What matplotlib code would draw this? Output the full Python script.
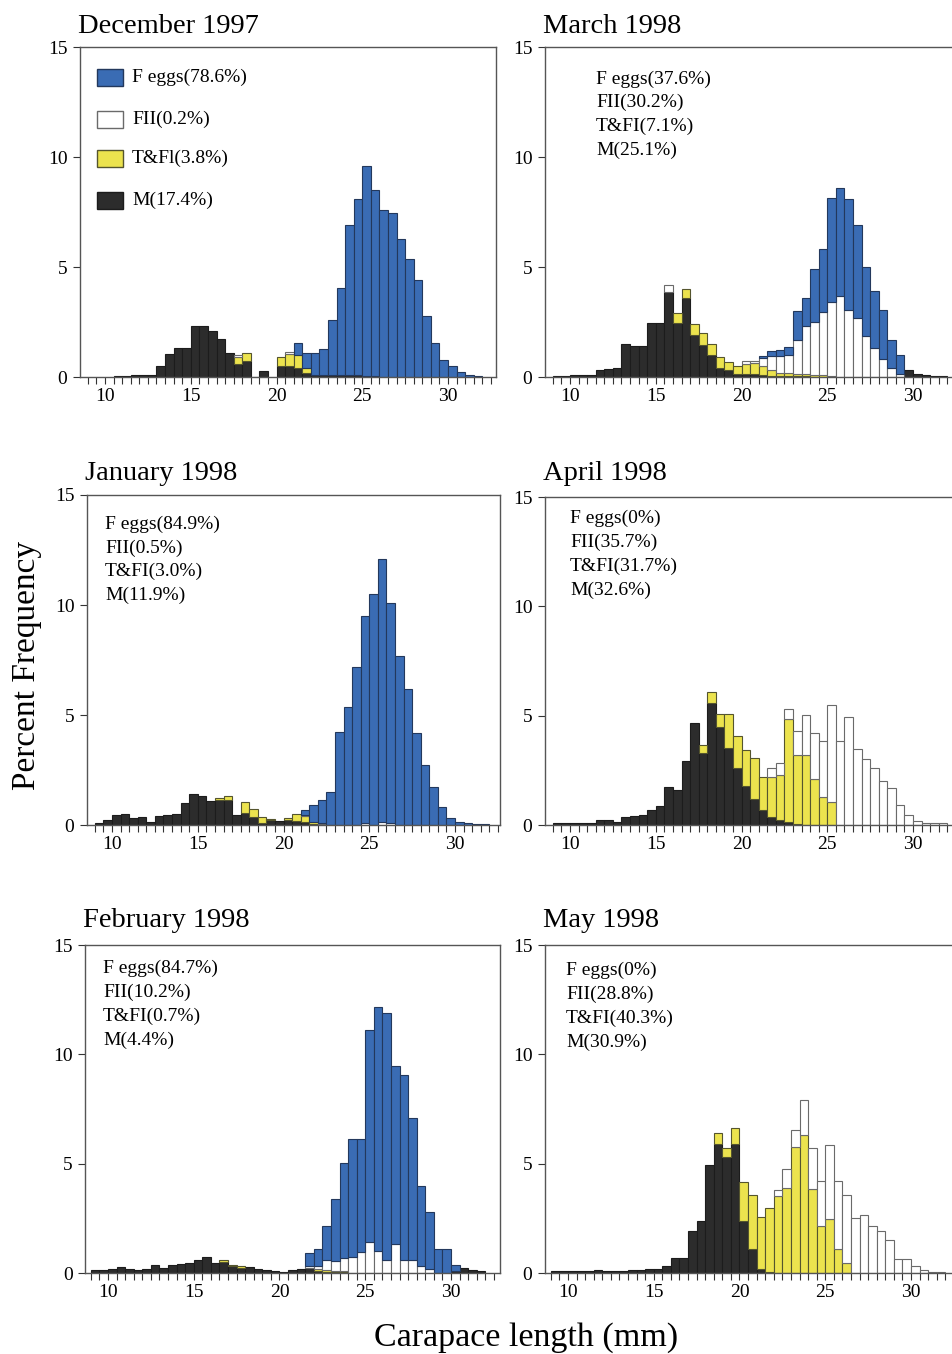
import numpy as np
import matplotlib
matplotlib.use('Agg')
import matplotlib.pyplot as plt
from matplotlib.ticker import MultipleLocator
from matplotlib.patches import Rectangle

plt.rcParams['font.family'] = ['Liberation Serif', 'DejaVu Serif']

W, H = 953, 1354
DPI = 100

# carapace length classes, left edge of each 0.5 mm bin
bins = np.arange(9.0, 32.0, 0.5)

# percent frequency per bin: M, T&FI, FII, F eggs (bottom to top of stack)
dec_m = [0, 0, 0, 0.05, 0.06, 0.1, 0.1, 0.1, 0.5, 1.06,
         1.33, 1.33, 2.3, 2.3, 2.1, 1.75, 1.1, 0.6, 0.75, 0.02,
         0.29, 0, 0.5, 0.5, 0.4, 0.2, 0.1, 0.1, 0.1, 0.07,
         0.1, 0.08, 0.05, 0.05, 0, 0, 0, 0, 0, 0,
         0, 0, 0, 0, 0, 0]
dec_tf = [0, 0, 0, 0, 0, 0, 0, 0, 0, 0,
          0, 0, 0, 0, 0, 0, 0, 0.3, 0.35, 0,
          0, 0, 0.4, 0.55, 0.6, 0.2, 0, 0, 0, 0,
          0, 0, 0, 0, 0, 0, 0, 0, 0, 0,
          0, 0, 0, 0, 0, 0]
dec_fii = [0, 0, 0, 0, 0, 0, 0, 0, 0, 0,
           0, 0, 0, 0, 0, 0, 0, 0.1, 0, 0,
           0, 0, 0, 0.1, 0, 0, 0, 0, 0, 0,
           0, 0, 0, 0, 0, 0, 0, 0, 0, 0,
           0, 0, 0, 0, 0, 0]
dec_fe = [0, 0, 0, 0, 0, 0, 0, 0, 0, 0,
          0, 0, 0, 0, 0, 0, 0, 0, 0, 0,
          0, 0, 0, 0, 0.55, 0.7, 0.97, 1.16, 2.49, 3.96,
          6.8, 8.0, 9.54, 8.45, 7.6, 7.44, 6.26, 5.35, 4.41, 2.77,
          1.53, 0.77, 0.5, 0.21, 0.08, 0.05]

mar_m = [0.03, 0.05, 0.1, 0.08, 0.1, 0.3, 0.35, 0.4, 1.5, 1.4,
         1.4, 2.45, 2.45, 3.85, 2.45, 3.6, 1.9, 1.45, 1.0, 0.4,
         0.3, 0.15, 0.15, 0.15, 0.1, 0.05, 0.05, 0.05, 0.05, 0.05,
         0, 0, 0, 0, 0, 0, 0, 0, 0, 0,
         0, 0.3, 0.15, 0.08, 0.05, 0.03]
mar_tf = [0, 0, 0, 0, 0, 0, 0, 0, 0, 0,
          0, 0, 0, 0, 0.45, 0.4, 0.5, 0.55, 0.5, 0.5,
          0.4, 0.35, 0.45, 0.5, 0.4, 0.25, 0.15, 0.12, 0.1, 0.1,
          0.1, 0.08, 0.05, 0, 0, 0, 0, 0, 0, 0,
          0, 0, 0, 0, 0, 0]
mar_fii = [0, 0, 0, 0, 0, 0, 0, 0, 0, 0,
           0, 0, 0, 0.35, 0, 0, 0, 0, 0, 0,
           0, 0, 0.15, 0.1, 0.35, 0.65, 0.75, 0.85, 1.55, 2.15,
           2.4, 2.87, 3.35, 3.67, 3.06, 2.7, 1.85, 1.3, 0.8, 0.4,
           0.15, 0, 0, 0, 0, 0]
mar_fe = [0, 0, 0, 0, 0, 0, 0, 0, 0, 0,
          0, 0, 0, 0, 0, 0, 0, 0, 0, 0,
          0, 0, 0, 0, 0.1, 0.25, 0.3, 0.33, 1.3, 1.3,
          2.4, 2.85, 4.75, 4.93, 5.04, 4.2, 3.15, 2.6, 2.26, 1.3,
          0.85, 0, 0, 0, 0, 0]

jan_m = [0.1, 0.25, 0.45, 0.5, 0.3, 0.35, 0.15, 0.4, 0.45, 0.5,
         1.0, 1.4, 1.3, 1.1, 1.15, 1.15, 0.45, 0.55, 0.35, 0.1,
         0.22, 0.2, 0.25, 0.2, 0.15, 0.05, 0, 0, 0, 0,
         0, 0, 0, 0, 0, 0, 0, 0, 0, 0,
         0, 0, 0, 0, 0, 0]
jan_tf = [0, 0, 0, 0, 0, 0, 0, 0, 0, 0,
          0, 0, 0, 0, 0.1, 0.15, 0, 0.5, 0.4, 0.28,
          0.05, 0, 0.05, 0.3, 0.25, 0.1, 0.05, 0, 0, 0,
          0, 0, 0, 0, 0, 0, 0, 0, 0, 0,
          0, 0, 0, 0, 0, 0]
jan_fii = [0, 0, 0, 0, 0, 0, 0, 0, 0, 0,
           0, 0, 0, 0, 0, 0, 0, 0, 0, 0,
           0, 0, 0, 0, 0.05, 0, 0.05, 0, 0, 0,
           0, 0.1, 0, 0.15, 0.1, 0, 0, 0, 0, 0,
           0, 0, 0, 0, 0, 0]
jan_fe = [0, 0, 0, 0, 0, 0, 0, 0, 0, 0,
          0, 0, 0, 0, 0, 0, 0, 0, 0, 0,
          0, 0, 0, 0, 0.25, 0.75, 1.05, 1.5, 4.25, 5.35,
          7.2, 9.4, 10.5, 11.95, 10.0, 7.7, 6.2, 4.2, 2.75, 1.75,
          0.84, 0.33, 0.13, 0.08, 0.06, 0.05]

apr_m = [0.1, 0.1, 0.1, 0.1, 0.1, 0.25, 0.25, 0.15, 0.35, 0.4,
         0.45, 0.68, 0.88, 1.75, 1.6, 2.92, 4.67, 3.3, 5.6, 4.5,
         3.5, 2.6, 1.8, 1.2, 0.68, 0.38, 0.23, 0.12, 0.05, 0,
         0, 0, 0, 0, 0, 0, 0, 0, 0, 0,
         0, 0, 0, 0, 0, 0]
apr_tf = [0, 0, 0, 0, 0, 0, 0, 0, 0, 0,
          0, 0, 0, 0, 0, 0, 0, 0.35, 0.48, 0.59,
          1.59, 1.46, 1.62, 1.87, 1.52, 1.82, 2.05, 4.74, 3.14, 3.19,
          2.1, 1.3, 1.05, 0, 0, 0, 0, 0, 0, 0,
          0, 0, 0, 0, 0, 0]
apr_fii = [0, 0, 0, 0, 0, 0, 0, 0, 0, 0,
           0, 0, 0, 0, 0, 0, 0, 0, 0, 0,
           0, 0, 0, 0, 0, 0.4, 0.56, 0.43, 1.1, 1.86,
           2.1, 2.53, 4.45, 3.83, 4.94, 3.47, 3.0, 2.6, 2.0, 1.67,
           0.9, 0.45, 0.2, 0.1, 0.08, 0.08]
apr_fe = [0] * 46

feb_m = [0.12, 0.15, 0.17, 0.28, 0.17, 0.14, 0.2, 0.36, 0.21, 0.36,
         0.42, 0.44, 0.6, 0.74, 0.44, 0.5, 0.3, 0.25, 0.29, 0.2,
         0.14, 0.08, 0.03, 0.12, 0.2, 0.25, 0.1, 0.05, 0.05, 0.03,
         0, 0, 0, 0, 0, 0, 0, 0, 0, 0,
         0, 0, 0.1, 0.24, 0.14, 0.08]
feb_tf = [0, 0, 0, 0, 0, 0, 0, 0, 0, 0,
          0, 0, 0, 0, 0, 0.1, 0.06, 0.05, 0, 0,
          0, 0, 0, 0, 0, 0, 0.1, 0.1, 0.05, 0.05,
          0, 0, 0, 0, 0, 0, 0, 0, 0, 0,
          0, 0, 0, 0, 0, 0]
feb_fii = [0, 0, 0, 0, 0, 0, 0, 0, 0, 0,
           0, 0, 0, 0, 0, 0, 0, 0, 0, 0,
           0, 0, 0, 0, 0, 0.05, 0.1, 0.44, 0.47, 0.6,
           0.74, 0.97, 1.42, 1.0, 0.6, 1.32, 0.6, 0.6, 0.3, 0.2,
           0, 0, 0, 0, 0, 0]
feb_fe = [0, 0, 0, 0, 0, 0, 0, 0, 0, 0,
          0, 0, 0, 0, 0, 0, 0, 0, 0, 0,
          0, 0, 0, 0, 0, 0.6, 0.82, 1.56, 2.83, 4.34,
          5.39, 5.16, 9.68, 11.17, 11.3, 8.15, 8.45, 6.5, 3.7, 2.6,
          1.12, 1.12, 0.26, 0, 0, 0]

may_m = [0.08, 0.08, 0.08, 0.08, 0.08, 0.12, 0.08, 0.08, 0.08, 0.15,
         0.15, 0.18, 0.18, 0.33, 0.7, 0.7, 1.9, 2.37, 4.95, 5.9,
         5.3, 5.9, 2.4, 1.1, 0.2, 0.05, 0, 0, 0, 0,
         0, 0, 0, 0, 0, 0, 0, 0, 0, 0,
         0, 0, 0, 0, 0, 0]
may_tf = [0, 0, 0, 0, 0, 0, 0, 0, 0, 0,
          0, 0, 0, 0, 0, 0, 0, 0, 0, 0.5,
          0.42, 0.75, 1.78, 2.47, 2.38, 2.9, 3.5, 3.9, 5.77, 6.3,
          3.85, 2.15, 2.46, 1.1, 0.46, 0, 0, 0, 0, 0,
          0, 0, 0, 0, 0, 0]
may_fii = [0, 0, 0, 0, 0, 0, 0, 0, 0, 0,
           0, 0, 0, 0, 0, 0, 0, 0, 0, 0,
           0, 0, 0, 0, 0, 0, 0.3, 0.87, 0.78, 1.6,
           1.87, 2.08, 3.39, 3.13, 3.11, 2.5, 2.65, 2.15, 1.92, 1.5,
           0.62, 0.62, 0.33, 0.12, 0.06, 0.06]
may_fe = [0] * 46

# stage shares printed in each panel
dec_txt = ['F eggs(78.6%)', 'FII(0.2%)', 'T&Fl(3.8%)', 'M(17.4%)']
mar_txt = ['F eggs(37.6%)', 'FII(30.2%)', 'T&FI(7.1%)', 'M(25.1%)']
jan_txt = ['F eggs(84.9%)', 'FII(0.5%)', 'T&FI(3.0%)', 'M(11.9%)']
apr_txt = ['F eggs(0%)', 'FII(35.7%)', 'T&FI(31.7%)', 'M(32.6%)']
feb_txt = ['F eggs(84.7%)', 'FII(10.2%)', 'T&FI(0.7%)', 'M(4.4%)']
may_txt = ['F eggs(0%)', 'FII(28.8%)', 'T&FI(40.3%)', 'M(30.9%)']

BLUE = '#3a6cb4'
YEL = '#ece34e'
DARK = '#2c2c2c'
WHITE = '#ffffff'
styles = [(DARK, '#1c1c1c'), (YEL, '#55552e'), (WHITE, '#6a6a6a'), (BLUE, '#23385c')]

fig = plt.figure(figsize=(W / DPI, H / DPI), dpi=DPI)


def fx(x):
    return x / W


def fy(y):
    return 1 - y / H


def draw(box, title, title_y, series, xmin):
    left, top, right, bottom = box
    ax = fig.add_axes([fx(left), fy(bottom), fx(right - left), (bottom - top) / H])
    base = np.zeros(len(bins))
    for vals, (fc, ec) in zip(series, styles):
        vals = np.array(vals, dtype=float)
        keep = vals > 0
        ax.bar(bins[keep], vals[keep], width=0.5, bottom=base[keep], align='edge',
               color=fc, edgecolor=ec, linewidth=0.8)
        base = base + vals
    ax.set_xlim(xmin, xmin + (right - left) / 17.15)
    ax.set_ylim(0, 15)
    ax.set_yticks([0, 5, 10, 15])
    ax.set_xticks([10, 15, 20, 25, 30])
    ax.xaxis.set_minor_locator(MultipleLocator(0.5))
    ax.tick_params(axis='both', which='both', direction='out', length=5,
                   width=0.8, color='#333333', labelsize=14)
    ax.tick_params(axis='y', pad=4)
    ax.tick_params(axis='x', pad=3)
    for sp in ax.spines.values():
        sp.set_color('#555555')
        sp.set_linewidth(1.0)
    fig.text(fx(left - 2), fy(title_y), title, fontsize=20.5, ha='left', va='baseline')
    return ax


def note(lines, x, ys):
    for s, y in zip(lines, ys):
        fig.text(fx(x), fy(y), s, fontsize=14, ha='left', va='center')


draw((80, 47, 496, 377), 'December 1997', 33, [dec_m, dec_tf, dec_fii, dec_fe], 8.54)
draw((545, 47, 960, 377), 'March 1998', 33, [mar_m, mar_tf, mar_fii, mar_fe], 8.54)
draw((87, 495, 500, 825), 'January 1998', 480, [jan_m, jan_tf, jan_fii, jan_fe], 8.54)
draw((545, 497, 960, 825), 'April 1998', 480, [apr_m, apr_tf, apr_fii, apr_fe], 8.54)
draw((85, 945, 500, 1273), 'February 1998', 927, [feb_m, feb_tf, feb_fii, feb_fe], 8.66)
draw((545, 945, 960, 1273), 'May 1998', 927, [may_m, may_tf, may_fii, may_fe], 8.66)

# legend keys in the first panel
key_cols = [(BLUE, '#23385c'), (WHITE, '#6a6a6a'), (YEL, '#55552e'), (DARK, '#1c1c1c')]
key_y = [77, 119.5, 158.5, 200]
for (fc, ec), y in zip(key_cols, key_y):
    fig.add_artist(Rectangle((fx(97), fy(y + 8.5)), 26 / W, 17 / H, transform=fig.transFigure,
                             facecolor=fc, edgecolor=ec, linewidth=1.0))
note(dec_txt, 132, key_y)

note(mar_txt, 596, [79, 102.5, 126.5, 150])
note(jan_txt, 105, [524, 548, 571.5, 595])
note(apr_txt, 570, [518, 542, 566, 590])
note(feb_txt, 103, [968.5, 992.5, 1016.5, 1040.5])
note(may_txt, 566, [970, 994, 1018, 1042])

fig.text(fx(27), fy(665), 'Percent Frequency', fontsize=24, rotation=90, ha='center', va='center')
fig.text(fx(526), fy(1338), 'Carapace length (mm)', fontsize=24.5, ha='center', va='center')

fig.savefig('out.png', dpi=DPI)
